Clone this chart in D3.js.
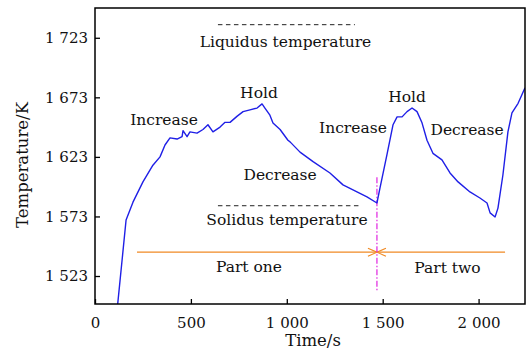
<!DOCTYPE html>
<html lang="en">
	<head>
		<meta charset="utf-8">
		<title>Temperature vs time</title>
		<script type="text/javascript" src="https://d3js.org/d3.v7.min.js"></script>
		<style type="text/css">
			body { margin: 0; background: white; }
			svg { display: block; font-family: "DejaVu Serif", serif; }
		</style>
	</head>
	<body>
		<svg id="escenario" width="527" height="351"></svg>
		<script type="text/javascript">
			// Measured curve: time (s) and temperature (K)
			const times = [118, 141, 162, 198, 250, 302, 339, 365, 391, 428, 454, 459, 480, 495, 532, 563, 589, 615, 652, 678,
				704, 740, 772, 808, 845, 871, 886, 912, 928, 965, 1006, 1017, 1069, 1137, 1225, 1293, 1366, 1418, 1470,
				1486, 1522, 1554, 1575, 1601, 1627, 1653, 1679, 1705, 1731, 1762, 1809, 1851, 1893, 1955, 2007, 2044,
				2060, 2086, 2101, 2127, 2153, 2174, 2206, 2242];
			const temps = [1499, 1536, 1570, 1585, 1602, 1616, 1623, 1633, 1639, 1638, 1640, 1645, 1640, 1644, 1643, 1646, 1650, 1644, 1648, 1652,
				1652, 1657, 1661, 1662.5, 1664, 1667.5, 1664, 1658, 1651.5, 1646, 1637, 1635.6, 1627, 1619, 1609.5, 1599.5, 1593.6, 1589.4, 1584.3,
				1597, 1624.7, 1650, 1656.6, 1656.6, 1661, 1664, 1661, 1651.6, 1637, 1626, 1620.5, 1609.5, 1602, 1593.6, 1588.5, 1584.3,
				1576, 1572.6, 1580, 1608, 1644, 1660, 1668, 1681];

			const xTicks = [0, 500, 1000, 1500, 2000];
			const yTicks = [1523, 1573, 1623, 1673, 1723];

			// reference lines
			const liquidus = { t: [641, 1355], T: 1734 };
			const solidus = { t: [641, 1382], T: 1582 };
			const parts = { t: [219, 2138], T: 1543, split: 1470 };
			const splitRange = [1511, 1606];

			const labelText = ["Increase", "Hold", "Decrease", "Increase", "Hold", "Decrease",
				"Liquidus temperature", "Solidus temperature", "Part one", "Part two"];
			const labelT = [360, 855, 965, 1345, 1627, 1940, 993, 1001, 803, 1838];
			const labelK = [1649.9, 1672.6, 1603.7, 1643.2, 1669.2, 1641.5, 1715.4, 1565.9, 1526.4, 1525.5];

			const mLeft = 95, mRight = 525, mTop = 8, mBottom = 304;

			const x = d3.scaleLinear().domain([0, 2242]).range([mLeft, mRight]);
			const y = d3.scaleLinear().domain([1499.5, 1748]).range([mBottom, mTop]);

			const svg = d3.select("#escenario");
			const fmt = d3.formatLocale({ decimal: ".", thousands: " ", grouping: [3], currency: ["", ""] }).format(",d");

			const defs = svg.append("defs");
			defs.append("clipPath").attr("id", "clip")
				.append("rect").attr("x", mLeft).attr("y", mTop).attr("width", mRight - mLeft).attr("height", mBottom - mTop);

			defs.append("marker").attr("id", "arr")
				.attr("viewBox", "0 0 10 10").attr("refX", 10).attr("refY", 5)
				.attr("markerWidth", 10).attr("markerHeight", 10).attr("markerUnits", "userSpaceOnUse")
				.attr("orient", "auto")
				.append("path").attr("d", "M1,1 L10,5 L1,9").attr("fill", "none")
				.attr("stroke", "#f08a24").attr("stroke-width", 1.2);

			// reference dashed lines
			[liquidus, solidus].forEach(r => {
				svg.append("line")
					.attr("x1", x(r.t[0])).attr("x2", x(r.t[1]))
					.attr("y1", y(r.T)).attr("y2", y(r.T))
					.attr("stroke", "#222").attr("stroke-width", 1)
					.attr("stroke-dasharray", "4.5,3.5");
			});

			// orange part line with arrows meeting at split
			svg.append("line")
				.attr("x1", x(parts.t[0])).attr("x2", x(parts.split))
				.attr("y1", y(parts.T)).attr("y2", y(parts.T))
				.attr("stroke", "#f08a24").attr("stroke-width", 1.3)
				.attr("marker-end", "url(#arr)");
			svg.append("line")
				.attr("x1", x(parts.t[1])).attr("x2", x(parts.split))
				.attr("y1", y(parts.T)).attr("y2", y(parts.T))
				.attr("stroke", "#f08a24").attr("stroke-width", 1.3)
				.attr("marker-end", "url(#arr)");

			// magenta split line
			svg.append("line")
				.attr("x1", x(parts.split)).attr("x2", x(parts.split))
				.attr("y1", y(splitRange[1])).attr("y2", y(splitRange[0]))
				.attr("stroke", "#e024e0").attr("stroke-width", 1.2)
				.attr("stroke-dasharray", "6,2,1.5,2");

			// curve
			const line = d3.line().x((d, i) => x(times[i])).y((d, i) => y(temps[i]));
			svg.append("path")
				.datum(times)
				.attr("clip-path", "url(#clip)")
				.attr("d", line)
				.attr("fill", "none")
				.attr("stroke", "#1f1fe6")
				.attr("stroke-width", 1.4)
				.attr("stroke-linejoin", "round");

			// labels
			svg.append("g").selectAll("text")
				.data(labelText).enter()
				.append("text")
				.attr("x", (d, i) => x(labelT[i]))
				.attr("y", (d, i) => y(labelK[i]))
				.attr("text-anchor", "middle")
				.attr("font-size", 15.5)
				.attr("fill", "#111")
				.text(d => d);

			// axes
			const xAxis = d3.axisBottom(x).tickValues(xTicks).tickFormat(fmt).tickSize(-5).tickPadding(13).tickSizeOuter(0);
			const yAxis = d3.axisLeft(y).tickValues(yTicks).tickFormat(fmt).tickSize(-5).tickPadding(7).tickSizeOuter(0);

			const gx = svg.append("g").attr("transform", "translate(0," + mBottom + ")").call(xAxis);
			const gy = svg.append("g").attr("transform", "translate(" + mLeft + ",0)").call(yAxis);
			[gx, gy].forEach(g => {
				g.select(".domain").remove();
				g.selectAll(".tick line").attr("stroke", "#000").attr("stroke-width", 1.3);
				g.selectAll(".tick text").attr("font-family", "DejaVu Serif").attr("font-size", 15).attr("fill", "#111");
			});

			// frame
			svg.append("rect")
				.attr("x", mLeft).attr("y", mTop)
				.attr("width", mRight - mLeft).attr("height", mBottom - mTop)
				.attr("fill", "none").attr("stroke", "#000").attr("stroke-width", 1.5);

			// axis titles
			svg.append("text")
				.attr("x", (mLeft + mRight) / 2 + 3).attr("y", 346)
				.attr("text-anchor", "middle").attr("font-size", 16.5).attr("fill", "#111")
				.text("Time/s");
			svg.append("text")
				.attr("transform", "translate(28,165) rotate(-90)")
				.attr("text-anchor", "middle").attr("font-size", 16.5).attr("fill", "#111")
				.text("Temperature/K");
		</script>
	</body>
</html>
